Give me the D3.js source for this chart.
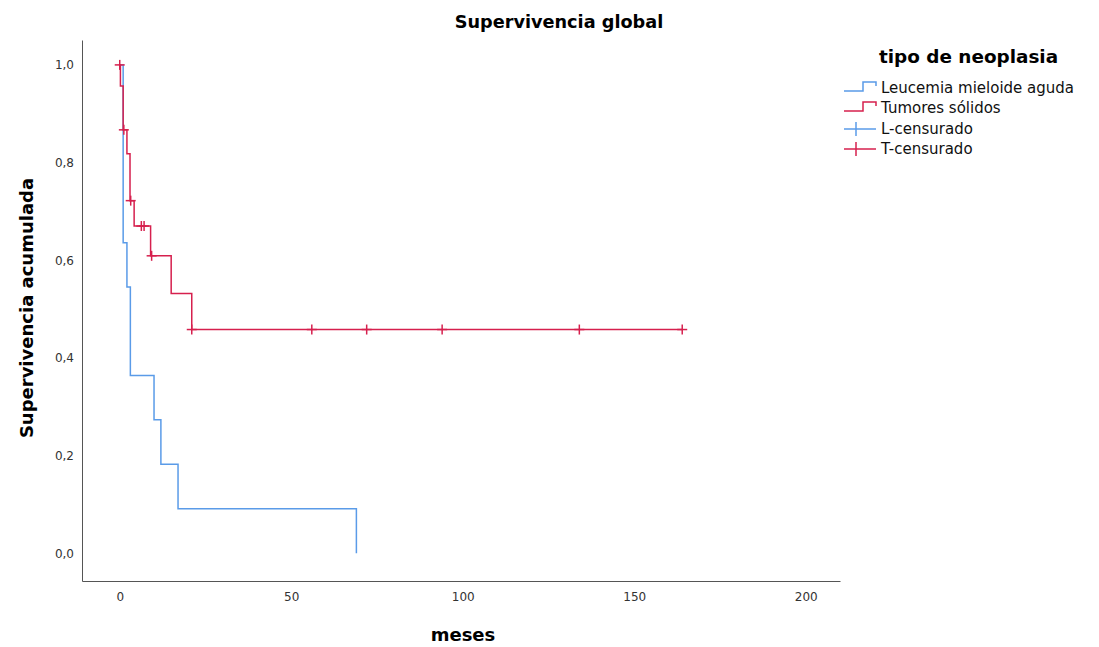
<!DOCTYPE html>
<html>
<head>
<meta charset="utf-8">
<script src="https://cdn.jsdelivr.net/npm/d3@7"></script>
<style>
  body { margin: 0; background: #fff; }
  text { font-family: "DejaVu Sans", sans-serif; }
</style>
</head>
<body>
<svg id="chart" width="1099" height="647"></svg>
<script>
// Kaplan-Meier steps (months, cumulative survival)
const leucemiaTimes = [0, 1, 2.1, 3.1, 10, 12, 17, 69];
const leucemiaSurv  = [1, 0.636, 0.545, 0.364, 0.273, 0.182, 0.091, 0];

const tumorTimes = [0, 0.2, 1, 2.1, 3, 4.2, 9, 15, 21, 164];
const tumorSurv  = [1, 0.957, 0.867, 0.818, 0.722, 0.670, 0.609, 0.532, 0.458, 0.458];
const tumorCensored = [0, 1.2, 3.2, 6.3, 7.1, 9.3, 21, 56, 72, 94, 134, 164];

const xTicks = [0, 50, 100, 150, 200];
const yTicks = [0, 0.2, 0.4, 0.6, 0.8, 1.0];

const legendLabels = ["Leucemia mieloide aguda", "Tumores sólidos", "L-censurado", "T-censurado"];

const blue = "#5a9be8";
const red = "#d6204e";

const svg = d3.select("#chart");

const x = d3.scaleLinear().domain([-11, 210]).range([82, 840]);
const y = d3.scaleLinear().domain([-0.057, 1.051]).range([581, 40]);

const comma = d3.formatLocale({ decimal: ",", thousands: ".", grouping: [3], currency: ["", ""] });

// axes
const xAxis = svg.append("g")
    .attr("transform", "translate(0,581)")
    .call(d3.axisBottom(x).tickValues(xTicks).tickSize(0).tickSizeOuter(0).tickPadding(11));

const yAxis = svg.append("g")
    .attr("transform", "translate(82,0)")
    .call(d3.axisLeft(y).tickValues(yTicks).tickSize(0).tickSizeOuter(0).tickPadding(8)
        .tickFormat(comma.format(".1f")));

[xAxis, yAxis].forEach(a => {
    a.select(".domain").attr("stroke", "#555").attr("stroke-width", 1);
    a.selectAll(".tick text")
        .style("font-family", "DejaVu Sans")
        .style("font-size", "12px")
        .attr("fill", "#333");
});

// survival curves
const step = d3.line()
    .x(d => x(d[0]))
    .y(d => y(d[1]))
    .curve(d3.curveStepAfter);

svg.append("path")
    .datum(d3.zip(leucemiaTimes, leucemiaSurv))
    .attr("d", step)
    .attr("fill", "none")
    .attr("stroke", blue)
    .attr("stroke-width", 1.5);

svg.append("path")
    .datum(d3.zip(tumorTimes, tumorSurv))
    .attr("d", step)
    .attr("fill", "none")
    .attr("stroke", red)
    .attr("stroke-width", 1.5);

// censored marks sit on the curve value at that time
function survAt(times, surv, t) {
    const i = d3.bisectRight(times, t) - 1;
    return surv[Math.max(0, i)];
}

const cens = svg.append("g")
    .selectAll("g")
    .data(tumorCensored)
    .enter()
    .append("g")
    .attr("transform", t => `translate(${x(t)},${y(survAt(tumorTimes, tumorSurv, t))})`)
    .attr("stroke", red)
    .attr("stroke-width", 1.5);
cens.append("line").attr("x1", -5).attr("x2", 5);
cens.append("line").attr("y1", -5).attr("y2", 5);

// titles
svg.append("text")
    .attr("x", 559).attr("y", 28)
    .attr("text-anchor", "middle")
    .style("font-size", "17.7px").style("font-weight", "bold")
    .text("Supervivencia global");

svg.append("text")
    .attr("transform", "translate(33,308) rotate(-90)")
    .attr("text-anchor", "middle")
    .style("font-size", "18px").style("font-weight", "bold")
    .text("Supervivencia acumulada");

svg.append("text")
    .attr("x", 463).attr("y", 641)
    .attr("text-anchor", "middle")
    .style("font-size", "18px").style("font-weight", "bold")
    .text("meses");

// legend
const legend = svg.append("g").attr("transform", "translate(844,0)");
legend.append("text")
    .attr("x", 35).attr("y", 63)
    .style("font-size", "18.4px").style("font-weight", "bold")
    .text("tipo de neoplasia");

const rowY = [88, 108, 129, 149];
const rowColor = [blue, red, blue, red];

legendLabels.forEach((label, i) => {
    const g = legend.append("g").attr("transform", `translate(0,${rowY[i]})`);
    if (i < 2) {
        g.append("path")
            .attr("d", "M0,3H19V-6H32V-2")
            .attr("fill", "none")
            .attr("stroke", rowColor[i])
            .attr("stroke-width", 1.5);
    } else {
        g.append("line").attr("x1", 0).attr("x2", 32)
            .attr("stroke", rowColor[i]).attr("stroke-width", 1.5);
        g.append("line").attr("x1", 12).attr("x2", 12).attr("y1", -7).attr("y2", 7)
            .attr("stroke", rowColor[i]).attr("stroke-width", 1.5);
    }
    g.append("text")
        .attr("x", 37).attr("y", 5)
        .style("font-size", "15px")
        .attr("fill", "#111")
        .text(label);
});
</script>
</body>
</html>
